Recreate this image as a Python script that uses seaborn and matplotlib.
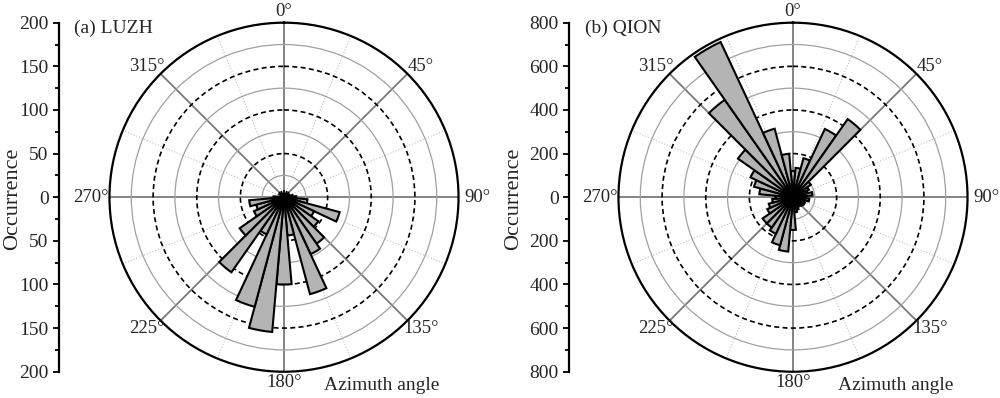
import numpy as np
import pandas as pd
import matplotlib
matplotlib.use("Agg")
import matplotlib.pyplot as plt
import seaborn as sns

# bin centres (deg, clockwise from north), 10 deg wide
angles = np.arange(0, 360, 10)

luzh_counts = [3, 3, 3, 3, 3, 3, 4, 6, 10, 14, 27, 66, 38, 48, 65, 72, 115, 44,
               100, 155, 130, 47, 105, 62, 38, 33, 40, 12, 3, 3, 3, 3, 3, 3, 3, 3]
qion_counts = [120, 135, 185, 345, 437, 100, 80, 70, 90, 60, 75, 55, 60, 55, 50, 50, 60, 70,
               150, 250, 228, 185, 170, 170, 130, 115, 95, 80, 155, 185, 215, 308, 545, 785, 325, 200]

luzh_ticks = [-200, -150, -100, -50, 0, 50, 100, 150, 200]
luzh_ticklabels = ["200", "150", "100", "50", "0", "50", "100", "150", "200"]
qion_ticks = [-800, -600, -400, -200, 0, 200, 400, 600, 800]
qion_ticklabels = ["800", "600", "400", "200", "0", "200", "400", "600", "800"]

angle_ticks = [0, 45, 90, 135, 180, 225, 270, 315]
angle_labels = [f"{a}°" for a in angle_ticks]

BAR_GRAY = "#b4b4b4"
FS = 14

sns.set_style("ticks")
plt.rcParams["font.family"] = ["Liberation Serif", "DejaVu Serif"]


def draw_rose(fig, polar_rect, axis_x, angles, counts, rmax, ticks, ticklabels, title, title_x):
    ax = fig.add_axes(polar_rect, projection="polar")
    ax.set_theta_zero_location("N")
    ax.set_theta_direction(-1)

    df = pd.DataFrame({"theta": np.deg2rad(angles), "count": counts})
    sns.barplot(data=df, x="theta", y="count", native_scale=True, width=1.0,
                color=BAR_GRAY, saturation=1, edgecolor="black", linewidth=1.5,
                errorbar=None, ax=ax)
    ax.set_xlabel("")
    ax.set_ylabel("")

    ax.set_xlim(0, 2 * np.pi)
    ax.set_ylim(0, rmax)
    step = rmax / 8
    rings = np.arange(1, 8) * step
    ax.set_yticks(rings)
    ax.set_yticklabels([])
    ax.set_xticks(np.deg2rad(angle_ticks))
    ax.set_xticklabels([])
    ax.set_xticks(np.deg2rad(np.arange(22.5, 360, 45)), minor=True)
    ax.tick_params(axis="x", which="both", bottom=True, direction="in", length=5,
                   width=1.2, color="black")
    ax.tick_params(axis="y", length=0)

    # angle labels just outside the circle
    for a, lab in zip(angle_ticks, angle_labels):
        th = np.deg2rad(a)
        ax.annotate(lab, xy=(th, rmax), xycoords="data",
                    xytext=(19 * np.sin(th) * 0.72, 11 * np.cos(th) * 0.72),
                    textcoords="offset points", ha="center", va="center",
                    fontsize=13.5, annotation_clip=False)

    ax.set_axisbelow(True)
    ax.xaxis.grid(True, which="major", color="#7a7a7a", lw=1.3, ls="-")
    ax.xaxis.grid(True, which="minor", color="#c0c0c0", lw=0.8, ls=":")
    ax.yaxis.grid(True)
    for i, gl in enumerate(ax.yaxis.get_gridlines()):
        if i % 2 == 1:
            gl.set_color("black")
            gl.set_linestyle((0, (3, 2)))
            gl.set_linewidth(1.2)
        else:
            gl.set_color("#a0a0a0")
            gl.set_linestyle("-")
            gl.set_linewidth(0.9)
    ax.spines["polar"].set_color("black")
    ax.spines["polar"].set_linewidth(1.6)

    # vertical occurrence scale
    axl = fig.add_axes([axis_x, polar_rect[1], 0.0001, polar_rect[3]])
    axl.set_ylim(-rmax, rmax)
    axl.set_xticks([])
    axl.set_yticks(ticks)
    axl.set_yticklabels(ticklabels, fontsize=FS)
    axl.set_yticks(np.arange(-rmax + step, rmax, 2 * step), minor=True)
    axl.tick_params(axis="y", which="major", left=True, direction="out", length=4.5,
                    width=1.3, color="black", pad=3)
    axl.tick_params(axis="y", which="minor", left=True, direction="out", length=3,
                    width=1.3, color="black")
    for side in ["top", "right", "bottom"]:
        axl.spines[side].set_visible(False)
    axl.spines["left"].set_linewidth(1.6)
    axl.spines["left"].set_color("black")
    axl.patch.set_visible(False)

    fig.text(title_x, 1 - 28 / 398, title, fontsize=FS, ha="left", va="center")
    return ax


fig = plt.figure(figsize=(10, 3.98), dpi=100)

draw_rose(fig, [0.109, 0.066, 0.350, 0.877], 0.059, angles, luzh_counts, 200,
          luzh_ticks, luzh_ticklabels, "(a) LUZH", 0.074)
draw_rose(fig, [0.618, 0.066, 0.350, 0.877], 0.569, angles, qion_counts, 800,
          qion_ticks, qion_ticklabels, "(b) QION", 0.585)

fig.text(0.013, 0.5, "Occurrence", rotation=90, fontsize=16, ha="center", va="center")
fig.text(0.514, 0.5, "Occurrence", rotation=90, fontsize=16, ha="center", va="center")
fig.text(0.324, 1 - 385 / 398, "Azimuth angle", fontsize=FS, ha="left", va="center")
fig.text(0.838, 1 - 385 / 398, "Azimuth angle", fontsize=FS, ha="left", va="center")

fig.savefig("out.png", dpi=100)
